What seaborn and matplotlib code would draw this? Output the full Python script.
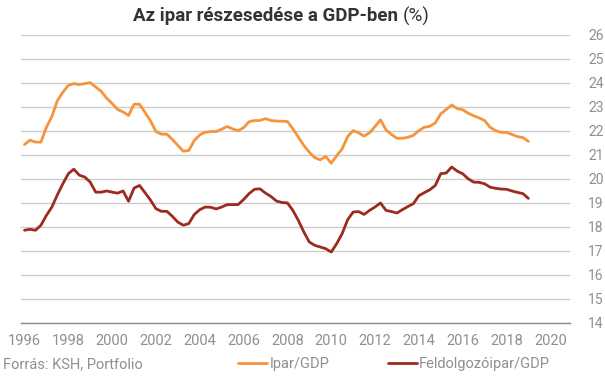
import numpy as np
import pandas as pd
import matplotlib
matplotlib.use("Agg")
import matplotlib.pyplot as plt
import seaborn as sns
from matplotlib.lines import Line2D

# ---- data (quarterly, 1996Q1 .. 2019Q1) ----
start_year = 1996
ipar_gdp = [
    21.43, 21.61, 21.53, 21.53, 22.15, 22.60, 23.26, 23.61, 23.90, 23.97,
    23.93, 23.97, 24.01, 23.83, 23.65, 23.36, 23.14, 22.89, 22.79, 22.64,
    23.11, 23.11, 22.77, 22.42, 21.97, 21.86, 21.86, 21.64, 21.39, 21.15,
    21.18, 21.60, 21.83, 21.94, 21.97, 21.97, 22.07, 22.18, 22.08, 22.01,
    22.13, 22.38, 22.43, 22.43, 22.51, 22.43, 22.41, 22.40, 22.39, 22.08,
    21.74, 21.39, 21.11, 20.88, 20.79, 20.93, 20.65, 20.96, 21.25, 21.76,
    22.01, 21.92, 21.78, 21.92, 22.18, 22.46, 22.04, 21.85, 21.69, 21.69,
    21.73, 21.81, 22.01, 22.15, 22.19, 22.33, 22.71, 22.89, 23.08, 22.93,
    22.88, 22.74, 22.63, 22.54, 22.43, 22.15, 22.01, 21.94, 21.93, 21.85,
    21.76, 21.72, 21.56,
]
feldolgozoipar_gdp = [
    17.85, 17.89, 17.85, 18.06, 18.47, 18.82, 19.33, 19.79, 20.21, 20.40,
    20.15, 20.07, 19.86, 19.44, 19.44, 19.49, 19.44, 19.40, 19.49, 19.06,
    19.61, 19.72, 19.42, 19.11, 18.75, 18.64, 18.64, 18.43, 18.19, 18.06,
    18.13, 18.51, 18.71, 18.82, 18.81, 18.74, 18.82, 18.92, 18.92, 18.92,
    19.13, 19.38, 19.56, 19.58, 19.40, 19.26, 19.07, 19.01, 18.99, 18.68,
    18.26, 17.78, 17.36, 17.22, 17.15, 17.08, 16.94, 17.29, 17.71, 18.29,
    18.61, 18.63, 18.51, 18.68, 18.82, 18.99, 18.68, 18.63, 18.57, 18.71,
    18.84, 18.96, 19.29, 19.42, 19.54, 19.72, 20.21, 20.24, 20.49, 20.32,
    20.21, 20.00, 19.86, 19.85, 19.79, 19.65, 19.60, 19.57, 19.56, 19.49,
    19.43, 19.38, 19.18,
]
series_names = ["Ipar/GDP", "Feldolgozóipar/GDP"]
x_ticks = list(range(1996, 2021, 2))
y_ticks = list(range(14, 27))

years = [start_year + i / 4 for i in range(len(ipar_gdp))]
df = pd.DataFrame({
    "year": years * 2,
    "value": ipar_gdp + feldolgozoipar_gdp,
    "series": [series_names[0]] * len(ipar_gdp) + [series_names[1]] * len(feldolgozoipar_gdp),
})

sns.set_theme(style="white")
plt.rcParams["font.family"] = ["Roboto", "DejaVu Sans"]

W, H = 605, 378
fig = plt.figure(figsize=(W / 100, H / 100), dpi=100)
ax = fig.add_axes([21 / W, 1 - 322.5 / H, (570 - 21) / W, (322.5 - 35) / H])

palette = {series_names[0]: "#F5943C", series_names[1]: "#9C2B1F"}
sns.lineplot(data=df, x="year", y="value", hue="series", palette=palette,
             linewidth=2.0, ax=ax, legend=False)

ax.set_xlim(1995.84, 2020.9)
ax.set_ylim(14, 26)
ax.set_xticks(x_ticks)
ax.set_yticks(y_ticks)
ax.yaxis.tick_right()
ax.grid(axis="y", color="#cccccc", linewidth=1.0)
ax.grid(axis="x", visible=False)
ax.set_axisbelow(True)
for s in ["top", "left", "right"]:
    ax.spines[s].set_visible(False)
ax.spines["bottom"].set_color("#8a8a8a")
ax.spines["bottom"].set_linewidth(1.0)
ax.tick_params(axis="x", length=0, labelsize=10.5, labelcolor="#8f8f8f", pad=8)
ax.tick_params(axis="y", length=0, labelsize=10, labelcolor="#8f8f8f", pad=13)
ax.set_xlabel("")
ax.set_ylabel("")

# title
t1 = fig.text(133 / W, 1 - 16 / H, "Az ipar részesedése a GDP-ben", ha="left", va="center",
              fontsize=13.5, fontweight="bold", color="#333333")
fig.canvas.draw()
bb = t1.get_window_extent()
fig.text((bb.x1 + 5) / W, 1 - 16 / H, "(%)", ha="left", va="center",
         fontsize=13.5, color="#333333")

# footer
fig.text(3 / W, 1 - 364 / H, "Forrás: KSH, Portfolio", ha="left", va="center",
         fontsize=10.5, color="#8f8f8f")

# legend
handles = [Line2D([0], [0], color=palette[n], linewidth=2.0) for n in series_names]
leg = fig.legend(handles, series_names, loc="center left",
                 bbox_to_anchor=(238 / W, 1 - 364 / H), ncol=2, frameon=False,
                 fontsize=10.5, handlelength=2.0, handletextpad=0.15,
                 columnspacing=4.0, borderaxespad=0, borderpad=0)
for t in leg.get_texts():
    t.set_color("#8f8f8f")

fig.savefig("out.png", dpi=100)
